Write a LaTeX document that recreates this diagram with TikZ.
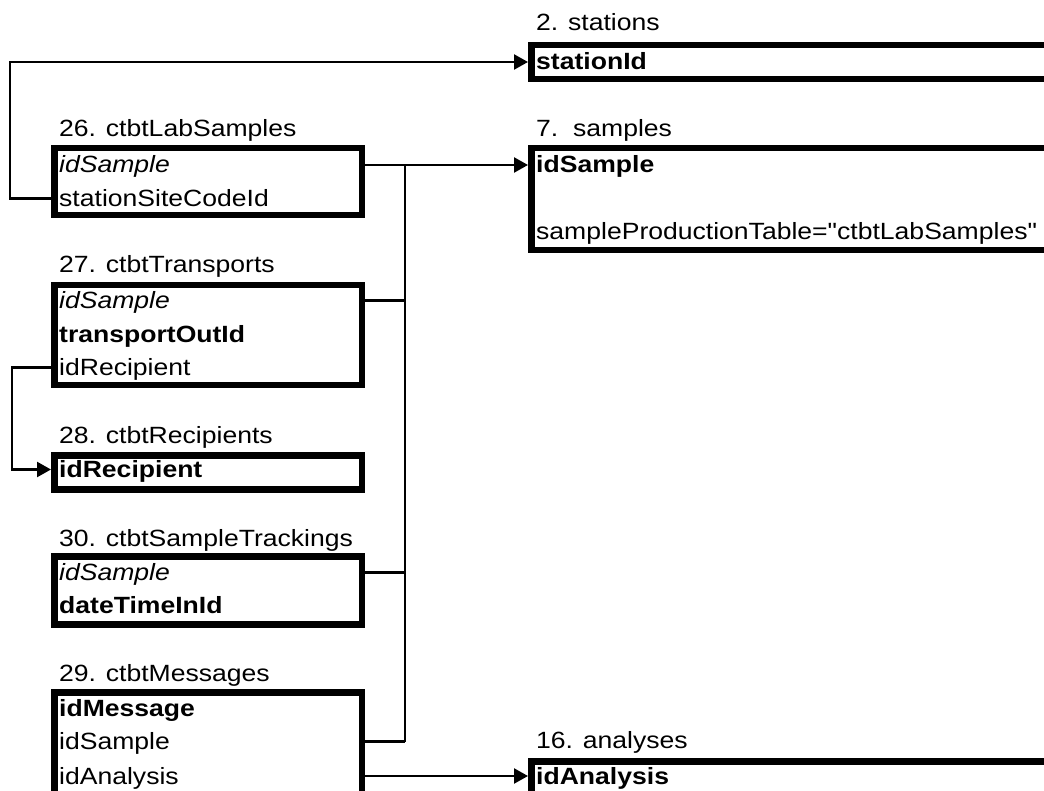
\documentclass[tikz,border=0pt]{standalone}
\usepackage{fontspec}
\setmainfont{Liberation Sans}[FakeStretch=1.13]
% same face without the TeX quote mapping, so " stays a straight quote
\newfontfamily\rawfont{Liberation Sans}[FakeStretch=1.13]
\usetikzlibrary{arrows.meta}
\begin{document}
\begin{tikzpicture}[x=1pt,y=-1pt,
  tbl/.style={draw, line width=6.5pt, inner sep=0pt, anchor=north west},
  ttl/.style={anchor=base west, inner sep=0pt, font=\fontsize{23.5}{28}\selectfont},
  fld/.style={anchor=west, inner sep=0pt, text height=16pt, text depth=0pt,
              font=\fontsize{23.5}{28}\selectfont},
  link/.style={line width=2.4pt},
  fk/.style={link, -{Triangle[length=14pt,width=15pt]}},
  bus/.style={line width=1.8pt}]
\useasboundingbox (0,0) rectangle (1044,791);
\clip (0,0) rectangle (1044,791);

% ---- referenced tables (right column) ----
\node[ttl] (t2) at (536,31) {2. stations};
\node[tbl, minimum width=560pt, minimum height=34pt] (b2) at (528,42) {};
\node[fld] (f2a) at (536,62) {\bfseries stationId};

\node[ttl] (t7) at (536,137) {7.~~samples};
\node[tbl, minimum width=560pt, minimum height=102pt] (b7) at (528,145) {};
\node[fld] (f7a) at (536,165) {\bfseries idSample};
\node[fld] (f7b) at (536,231.5) {\rawfont sampleProductionTable="ctbtLabSamples"};

\node[ttl] (t16) at (536,748) {16. analyses};
\node[tbl, minimum width=560pt, minimum height=80pt] (b16) at (528,758) {};
\node[fld] (f16a) at (536,776) {\bfseries idAnalysis};

% ---- sample production tables (left column) ----
\node[ttl] (t26) at (59,137) {26. ctbtLabSamples};
\node[tbl, minimum width=307.5pt, minimum height=67pt] (b26) at (51,145) {};
\node[fld] (f26a) at (59,165) {\itshape idSample};
\node[fld] (f26b) at (59,198.5) {stationSiteCodeId};

\node[ttl] (t27) at (59,273) {27. ctbtTransports};
\node[tbl, minimum width=307.5pt, minimum height=100pt] (b27) at (51,282) {};
\node[fld] (f27a) at (59,300.5) {\itshape idSample};
\node[fld] (f27b) at (59,334.5) {\bfseries transportOutId};
\node[fld] (f27c) at (59,367.5) {idRecipient};

\node[ttl] (t28) at (59,443) {28. ctbtRecipients};
\node[tbl, minimum width=307.5pt, minimum height=34pt] (b28) at (51,452) {};
\node[fld] (f28a) at (59,469.5) {\bfseries idRecipient};

\node[ttl] (t30) at (59,546) {30. ctbtSampleTrackings};
\node[tbl, minimum width=307.5pt, minimum height=68pt] (b30) at (51,553) {};
\node[fld] (f30a) at (59,572.5) {\itshape idSample};
\node[fld] (f30b) at (59,605.5) {\bfseries dateTimeInId};

\node[ttl] (t29) at (59,681) {29. ctbtMessages};
\node[tbl, minimum width=307.5pt, minimum height=140pt] (b29) at (51,689) {};
\node[fld] (f29a) at (59,708.5) {\bfseries idMessage};
\node[fld] (f29b) at (59,741.5) {idSample};
\node[fld] (f29c) at (59,776) {idAnalysis};

% ---- connectors ----
\coordinate (bx) at (405,0);
\coordinate (lx1) at (10,0);
\coordinate (lx2) at (12,0);

% idSample bus into samples
\draw[fk] (b26.east |- f26a) -- (b7.west |- f26a);
\draw[bus] (bx |- f26a) -- (bx |- f29b);
\draw[link] (b27.east |- f27a) -- (bx |- f27a);
\draw[link] (b30.east |- f30a) -- (bx |- f30a);
\draw[link] (b29.east |- f29b) -- (bx |- f29b);

% station reference
\draw[fk] (b26.west |- f26b) -- (lx1 |- f26b) -- (lx1 |- f2a) -- (b2.west |- f2a);

% recipient reference
\draw[fk] (b27.west |- f27c) -- (lx2 |- f27c) -- (lx2 |- f28a) -- (b28.west |- f28a);

% analysis reference
\draw[fk] (b29.east |- f29c) -- (b16.west |- f29c);
\end{tikzpicture}
\end{document}
